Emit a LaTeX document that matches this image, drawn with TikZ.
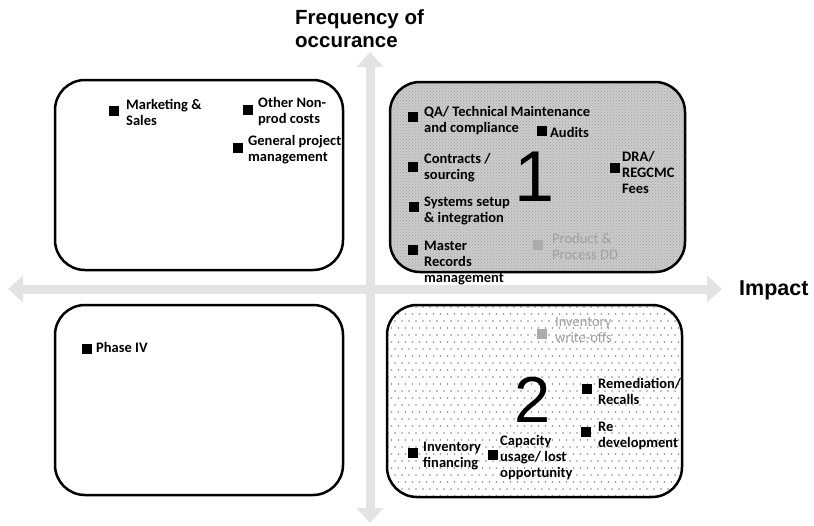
\documentclass[tikz,border=0pt]{standalone}
\usepackage{fontspec}
\setmainfont{Carlito}
\newfontfamily\arialf{Liberation Sans}
\usetikzlibrary{arrows.meta,patterns}
\begin{document}
\begin{tikzpicture}[x=1pt,y=-1pt,
 itm/.style={anchor=north west,inner sep=0pt,align=left,font=\fontsize{14.5}{16}\selectfont\bfseries},
 gitm/.style={itm,text=gray!75},
 mk/.style={fill=black,minimum size=10pt,inner sep=0pt},
 gmk/.style={mk,fill=gray!65},
 quad/.style={draw=black,line width=2.5pt,rounded corners=30pt},
 axis/.style={draw=gray!22,line width=9pt,{Triangle[width=26pt,length=15pt,fill=gray!22]}-{Triangle[width=26pt,length=15pt,fill=gray!22]}},
 ttl/.style={font=\arialf\bfseries\fontsize{20.5}{23}\selectfont,inner sep=0pt,align=left},
 big/.style={font=\arialf\fontsize{70}{70}\selectfont,inner sep=0pt}]
\fill[white] (0,0) rectangle (814,525);
\useasboundingbox (0,0) rectangle (814,525);

% axes
\coordinate (hl) at (8,289);
\coordinate (hr) at (722,289);
\coordinate (vt) at (370,52);
\coordinate (vb) at (370,523);
\draw[axis] (hl) -- (hr);
\draw[axis] (vb) -- (vt);

% titles
\node[ttl,anchor=north west] (freq) at (295,9) {Frequency of\\occurance};
\node[ttl,anchor=west,font=\arialf\bfseries\fontsize{21.5}{24}\selectfont] (impact) at (739,290) {Impact};

% quadrant boxes
\draw[quad,fill=white] (55,80) rectangle (343,270);
\draw[quad,fill=white] (55,305) rectangle (343,495);
\begin{scope}
\clip[rounded corners=30pt] (387,305) rectangle (682,497);
\fill[white] (387,305) rectangle (682,497);
\foreach \j in {0,...,28}{
 \pgfmathsetmacro{\off}{mod(\j,2)*3.5}
 \foreach \i in {0,...,43}{
  \fill[gray!90] (388+\off+7*\i, 307+7*\j) circle (0.8pt);
 }
}
\end{scope}
\draw[quad] (387,305) rectangle (682,497);
\draw[quad,preaction={fill=gray!40},pattern=crosshatch dots,pattern color=gray!75] (390,82) rectangle (685,272);

% big numbers
\node[big,font=\arialf\fontsize{72}{72}\selectfont] (one) at (535,177) {1};
\node[big,font=\arialf\fontsize{65}{65}\selectfont] (two) at (533,400) {2};

% top-left items
\node[mk] (m1) at (114,111) {};
\node[itm] (t1) at (126,99) {Marketing \&\\Sales};
\node[mk] (m2) at (248,110) {};
\node[itm] (t2) at (258,97) {Other Non-\\prod costs};
\node[mk] (m3) at (238,148) {};
\node[itm] (t3) at (248,135) {General project\\management};

% top-right items
\node[mk] (m4) at (413,117) {};
\node[itm] (t4) at (424,106) {QA/ Technical Maintenance\\and compliance};
\node[mk] (m5) at (542,131) {};
\node[itm] (t5) at (550,127) {Audits};
\node[mk] (m6) at (413,167) {};
\node[itm] (t6) at (424,153) {Contracts /\\sourcing};
\node[mk] (m7) at (615,168) {};
\node[itm] (t7) at (622,151) {DRA/\\REGCMC\\Fees};
\node[mk] (m8) at (414,207) {};
\node[itm] (t8) at (424,197) {Systems setup\\\& integration};
\node[mk] (m9) at (413,250) {};
\node[itm] (t9) at (424,241) {Master\\Records\\management};
\node[gmk] (m10) at (538,245) {};
\node[gitm,font=\fontsize{14.5}{16}\selectfont] (t10) at (552,233) {Product \&\\Process DD};

% bottom-left items
\node[mk] (m11) at (87,349) {};
\node[itm] (t11) at (96,342) {Phase IV};

% bottom-right items
\node[gmk] (m12) at (542,334) {};
\node[gitm,font=\fontsize{14.5}{16}\selectfont] (t12) at (555,317) {Inventory\\write-offs};
\node[mk] (m13) at (587,389) {};
\node[itm] (t13) at (598,378) {Remediation/\\Recalls};
\node[mk] (m14) at (586,432) {};
\node[itm] (t14) at (598,422) {Re\\development};
\node[mk] (m15) at (413,453) {};
\node[itm] (t15) at (423,442) {Inventory\\financing};
\node[mk] (m16) at (493,455) {};
\node[itm] (t16) at (500,435) {Capacity\\usage/ lost\\opportunity};
\end{tikzpicture}
\end{document}
